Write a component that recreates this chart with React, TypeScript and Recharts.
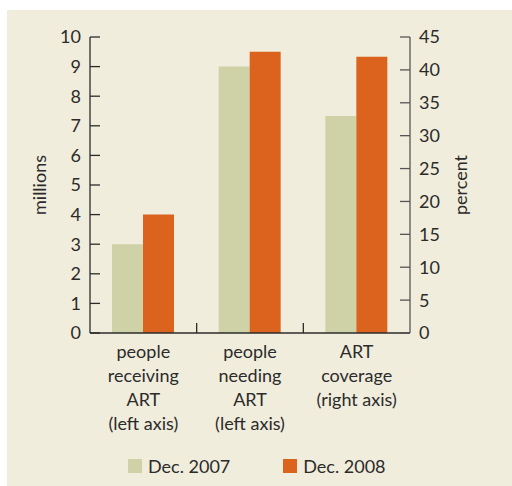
import React from 'react';
import { BarChart, Bar, XAxis, YAxis, Legend } from 'recharts';

// categories along the x axis (line breaks as in the original)
const categories = [
  'people\nreceiving\nART\n(left axis)',
  'people\nneeding\nART\n(left axis)',
  'ART\ncoverage\n(right axis)',
];

// millions of people (left axis) - first two categories
const millions2007 = [3.0, 9.0];
const millions2008 = [4.0, 9.5];
// ART coverage in percent (right axis) - last category
const percent2007 = 33;
const percent2008 = 42;

const leftTicks = [0, 1, 2, 3, 4, 5, 6, 7, 8, 9, 10];
const rightTicks = [0, 5, 10, 15, 20, 25, 30, 35, 40, 45];

const GREEN = '#cfd1a6';
const ORANGE = '#dc631e';
const INK = '#2b2b2b';
const FONT = 'Lato, "Open Sans", sans-serif';

const W = 512;
const H = 486;
const LEFT_W = 90;
const RIGHT_W = 102;
const TOP = 37;
const AXIS_H = 100;
const LEGEND_H = 20;
const BOTTOM = H - TOP - 296 - AXIS_H - LEGEND_H;
const BAND = (W - LEFT_W - RIGHT_W) / categories.length;

const chartData = categories.map((name, i) => ({
  name,
  m2007: i < millions2007.length ? millions2007[i] : null,
  m2008: i < millions2008.length ? millions2008[i] : null,
  p2007: i === categories.length - 1 ? percent2007 : null,
  p2008: i === categories.length - 1 ? percent2008 : null,
}));

const CategoryTick = (props: any) => {
  const { x, y, payload, index } = props;
  const lines = String(payload.value).split('\n');
  return (
    <g>
      {index < categories.length - 1 && (
        <line x1={x + BAND / 2} x2={x + BAND / 2} y1={y} y2={y - 10} stroke={INK} strokeWidth={1.3} />
      )}
      <text x={x} y={y} textAnchor="middle" fill={INK} fontSize={18} fontFamily={FONT}>
        {lines.map((l, i) => (
          <tspan key={i} x={x} dy={i === 0 ? 25 : 24}>
            {l}
          </tspan>
        ))}
      </text>
    </g>
  );
};

const LegendContent = (props: any) => {
  const items = (props.payload || []).filter((p: any) => p.type !== 'none');
  return (
    <div style={{ display: 'flex', gap: 53, paddingLeft: 128, fontFamily: FONT, fontSize: 18, color: INK, height: LEGEND_H }}>
      {items.map((p: any) => (
        <div key={p.value} style={{ display: 'flex', alignItems: 'center', gap: 6, lineHeight: '20px' }}>
          <span style={{ width: 14, height: 14, background: p.color, display: 'inline-block' }} />
          <span>{p.value}</span>
        </div>
      ))}
    </div>
  );
};

export default function App() {
  return (
    <div style={{ position: 'absolute', left: 0, top: 0, width: W, height: H, background: '#ffffff' }}>
      <div style={{ position: 'absolute', left: 7, top: 10, right: 0, bottom: 0, background: '#f1eddc' }} />
      <div style={{ position: 'absolute', left: 0, top: 0 }}>
        <BarChart
          width={W}
          height={H}
          data={chartData}
          margin={{ top: TOP, right: 0, left: 0, bottom: BOTTOM }}
          barGap={0}
          barSize={31}
        >
          <XAxis
            dataKey="name"
            xAxisId={0}
            height={AXIS_H}
            tickLine={false}
            tickSize={0}
            tickMargin={0}
            axisLine={{ stroke: INK, strokeWidth: 1.3 }}
            tick={<CategoryTick />}
            interval={0}
          />
          <YAxis
            yAxisId="left"
            width={LEFT_W}
            domain={[0, 10]}
            ticks={leftTicks}
            interval={0}
            tickSize={-10}
            tickMargin={19}
            axisLine={{ stroke: INK, strokeWidth: 1.3 }}
            tickLine={{ stroke: INK, strokeWidth: 1.3 }}
            tick={{ fill: INK, fontSize: 18, fontFamily: FONT }}
            label={{ value: 'millions', angle: -90, position: 'center', dx: -5, fill: INK, fontSize: 18, fontFamily: FONT }}
          />
          <YAxis
            yAxisId="right"
            orientation="right"
            width={RIGHT_W}
            domain={[0, 45]}
            ticks={rightTicks}
            interval={0}
            tickSize={-10}
            tickMargin={19}
            axisLine={{ stroke: '#555555', strokeWidth: 1.3 }}
            tickLine={{ stroke: '#555555', strokeWidth: 1.3 }}
            tick={{ fill: INK, fontSize: 18, fontFamily: FONT, textAnchor: 'start' }}
            label={{ value: 'percent', angle: -90, position: 'center', fill: INK, fontSize: 18, fontFamily: FONT }}
          />
          <Bar yAxisId="left" dataKey="m2007" name="Dec. 2007" stackId="a" fill={GREEN} isAnimationActive={false} />
          <Bar yAxisId="left" dataKey="m2008" name="Dec. 2008" stackId="b" fill={ORANGE} isAnimationActive={false} />
          <Bar yAxisId="right" dataKey="p2007" name="Dec. 2007 (%)" stackId="a" fill={GREEN} legendType="none" isAnimationActive={false} />
          <Bar yAxisId="right" dataKey="p2008" name="Dec. 2008 (%)" stackId="b" fill={ORANGE} legendType="none" isAnimationActive={false} />
          <Legend
            content={<LegendContent />}
            wrapperStyle={{ position: 'absolute', left: 0, top: 456, width: W }}
          />
        </BarChart>
      </div>
    </div>
  );
}
